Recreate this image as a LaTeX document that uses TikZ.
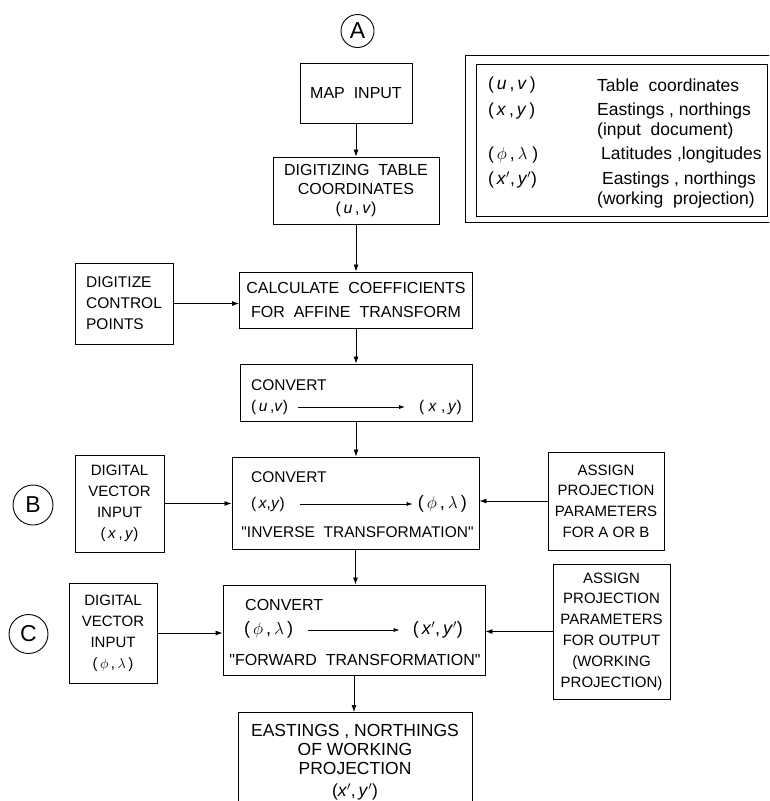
\documentclass[tikz,border=0pt]{standalone}
\usepackage{fontspec}
\setmainfont{Liberation Sans}
\usetikzlibrary{arrows.meta}
\newcommand{\fs}[2]{\fontsize{#1}{#2}\selectfont}
\newcommand{\iu}{\textit{u}}
\newcommand{\iv}{\textit{v}}
\newcommand{\ix}{\textit{x}}
\newcommand{\iy}{\textit{y}}
\newcommand{\qd}{\textquotedbl}
\begin{document}
\begin{tikzpicture}[x=1pt,y=-1pt,
  box/.style={draw, line width=0.9pt, inner sep=0pt, align=center},
  lbox/.style={draw, line width=0.9pt, inner sep=0pt, align=left},
  circ/.style={draw, circle, line width=0.9pt, inner sep=0pt, font=\fs{23}{23}},
  arr/.style={draw, line width=0.8pt, -{Latex[length=7pt,width=5pt]}},
  iarr/.style={draw, line width=0.7pt, -{Latex[length=6pt,width=4pt]}},
  txt/.style={inner sep=0pt, font=\fs{15.5}{20}},
  leg/.style={inner sep=0pt, font=\fs{17.5}{20}, anchor=west}
]
\useasboundingbox (0,0) rectangle (769,801);
\clip (0,0) rectangle (769,801);
\fill[white] (0,0) rectangle (769,801);

% circles
\node[circ, minimum size=33] (cA) at (357.5,31) {A};
\node[circ, minimum size=40] (cB) at (33,505) {B};
\node[circ, minimum size=39] (cC) at (28.5,634) {C};

% main column
\node[box, minimum width=112, minimum height=60, font=\fs{16}{20}] (map) at (356,93) {MAP\ \ INPUT};
\node[box, minimum width=166, minimum height=67, font=\fs{16}{19}] (dig) at (356,190.5)
  {DIGITIZING\ \ TABLE\\COORDINATES\\(\,\iu\,,\,\iv)};
\node[box, minimum width=233, minimum height=56, font=\fs{16}{24}] (calc) at (356,300)
  {CALCULATE\ \ COEFFICIENTS\\FOR\ \ AFFINE\ \ TRANSFORM};
\node[lbox, minimum width=98, minimum height=81, font=\fs{15.5}{21}] (dcp) at (124,303.5)
  {DIGITIZE\\CONTROL\\POINTS};

\node[box, minimum width=232, minimum height=57] (conv1) at (356,392.5) {};
\node[txt, anchor=west] (c1t) at (251,385) {CONVERT};
\node[txt, anchor=west] (c1a) at (251,407) {(\,\iu\,,\iv)};
\node[txt, anchor=east] (c1b) at (462,407) {(\ \ix\ ,\,\iy)};

\node[box, minimum width=247, minimum height=92] (conv2) at (355.5,503) {};
\node[txt, anchor=west] (c2t) at (251,477) {CONVERT};
\node[txt, anchor=west] (c2a) at (251,504) {(\,\ix,\iy)};
\node[txt, anchor=east, font=\fs{18}{20}] (c2b) at (467,504) {(\,$\phi$\,,\,$\lambda$\,)};
\node[txt] (c2i) at (357.5,532) {\qd INVERSE\ \ TRANSFORMATION\qd};

\node[box, minimum width=262, minimum height=90] (conv3) at (354,630) {};
\node[txt, anchor=west, font=\fs{16}{20}] (c3t) at (245,605) {CONVERT};
\node[txt, anchor=west, font=\fs{18}{20}] (c3a) at (244,630) {(\,$\phi$\,,\,$\lambda$\,)};
\node[txt, anchor=east, font=\fs{18}{20}] (c3b) at (463,630) {(\,\ix$'$,\,\iy$'$)};
\node[txt, font=\fs{16}{20}] (c3f) at (355,660) {\qd FORWARD\ \ TRANSFORMATION\qd};

\node[box, anchor=north, minimum width=234, minimum height=100, font=\fs{17.5}{19}] (out) at (355,712)
  {EASTINGS , NORTHINGS\\OF WORKING\\PROJECTION\\[3pt](\ix$'$,\,\iy$'$)};

% side boxes
\node[box, minimum width=89, minimum height=97, font=\fs{15}{21}] (vinB) at (119.5,503.5)
  {DIGITAL\\VECTOR\\INPUT\\(\,\ix\,,\,\iy)};
\node[box, minimum width=88, minimum height=100, font=\fs{15}{21}] (vinC) at (113,633)
  {DIGITAL\\VECTOR\\INPUT\\(\,$\phi$\,,\,$\lambda$\,)};
\node[box, minimum width=116, minimum height=98, font=\fs{15}{20.7}] (asgB) at (606,501)
  {ASSIGN\\PROJECTION\\PARAMETERS\\FOR A OR B};
\node[box, minimum width=117, minimum height=135, font=\fs{15}{20.8}] (asgC) at (611.5,631.5)
  {ASSIGN\\PROJECTION\\PARAMETERS\\FOR OUTPUT\\(WORKING\\PROJECTION)};

% connectors
\draw[arr] (map.south) -- (map.south |- dig.north);
\draw[arr] (dig.south) -- (dig.south |- calc.north);
\draw[arr] (calc.south) -- (calc.south |- conv1.north);
\draw[arr] (conv1.south) -- (conv1.south |- conv2.north);
\draw[arr] (conv2.south) -- (conv2.south |- conv3.north);
\draw[arr] (conv3.south) -- (conv3.south |- out.north);
\draw[arr] (dcp.east) -- (dcp.east -| calc.west);
\draw[arr] (vinB.east) -- (vinB.east -| conv2.west);
\draw[arr] (asgB.west) -- (asgB.west -| conv2.east);
\draw[arr] (vinC.east) -- (vinC.east -| conv3.west);
\draw[arr] (asgC.west) -- (asgC.west -| conv3.east);

\draw[iarr, shorten <=10pt, shorten >=14pt] (c1a.east) -- (c1a.east -| c1b.west);
\draw[iarr, shorten <=15pt, shorten >=5pt] (c2a.east) -- (c2a.east -| c2b.west);
\draw[iarr, shorten <=15pt, shorten >=13pt] (c3a.east) -- (c3a.east -| c3b.west);

% legend
\draw[line width=1pt] (465,55) rectangle (780,222);
\node[draw, line width=0.9pt, minimum width=291, minimum height=152, inner sep=0pt] (legend) at (621.5,140) {};
\node[leg] (l1a) at (488,85) {(\,\iu\,,\,\iv\,)};
\node[leg] (l1b) at (597,85) {Table\ \ coordinates};
\node[leg] (l2a) at (488,111) {(\,\ix\,,\,\iy\,)};
\node[leg] (l2b) at (597,111) {Eastings , northings};
\node[leg] (l2c) at (597,131) {(input\ \ document)};
\node[leg] (l3a) at (488,155) {(\,$\phi$\,,\,$\lambda$\ )};
\node[leg] (l3b) at (601,155) {Latitudes ,longitudes};
\node[leg] (l4a) at (488,180) {(\,\ix$'$,\,\iy$'$)};
\node[leg] (l4b) at (602,180) {Eastings , northings};
\node[leg] (l4c) at (597,200) {(working\ \ projection)};
\end{tikzpicture}
\end{document}
